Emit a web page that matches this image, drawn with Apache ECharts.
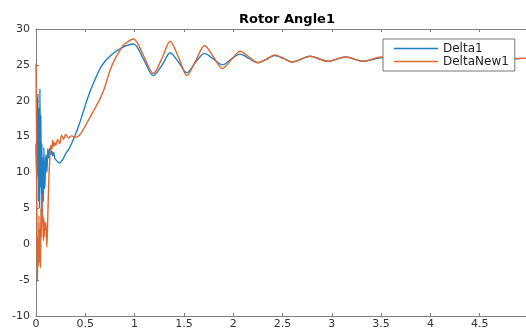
<!DOCTYPE html>
<html>
<head>
<meta charset="utf-8">
<script src="https://cdn.jsdelivr.net/npm/echarts@6/dist/echarts.min.js"></script>
<style>
  html, body { margin: 0; padding: 0; background: #fff; }
  #chart { width: 526px; height: 333px; }
</style>
</head>
<body>
<div id="chart"></div>
<script>
// time axis (s), shared by both series
const time = [
  0, 0.005, 0.01, 0.015, 0.02, 0.025, 0.03, 0.035, 0.04, 0.045, 0.05, 0.055, 0.06, 0.065, 0.07, 0.075, 0.08, 0.085, 0.09, 0.095,
  0.10, 0.11, 0.12, 0.13, 0.14, 0.15, 0.16, 0.17, 0.18, 0.19, 0.20, 0.22, 0.24, 0.26, 0.28, 0.30, 0.33, 0.36, 0.40, 0.44,
  0.48, 0.52, 0.56, 0.60, 0.65, 0.70, 0.75, 0.80, 0.85, 0.90, 0.99, 1.09, 1.19, 1.28, 1.36, 1.45, 1.53, 1.62, 1.71, 1.80,
  1.89, 1.98, 2.07, 2.16, 2.25, 2.34, 2.42, 2.51, 2.60, 2.78, 2.96, 3.14, 3.32, 3.50, 3.68, 3.86, 4.04, 4.22, 4.40, 4.58,
  4.76, 4.94, 5.0
];
const delta1 = [
  14, 9, 20.5, 9.5, 21, 6, 19, 5, 21.7, 8, 18, 4, 14, 3.3, 12, 6, 13.5, 8, 7.8, 11,
  12.5, 10, 13.3, 12, 13.4, 12.5, 13, 12.3, 12.8, 12, 11.8, 11.5, 11.3, 11.6, 12.0, 12.6, 13.2, 14.0, 15.3, 16.8,
  18.5, 20.2, 21.7, 23.0, 24.5, 25.5, 26.2, 26.8, 27.2, 27.6, 27.9, 25.8, 23.5, 25.0, 26.7, 25.3, 23.9, 25.4, 26.6, 25.8,
  25.0, 25.8, 26.5, 25.9, 25.3, 25.8, 26.3, 25.9, 25.4, 26.2, 25.5, 26.1, 25.5, 26.0, 25.6, 26.0, 25.7, 25.9, 25.7, 25.9,
  25.8, 25.9, 25.9
];
const deltaNew1 = [
  25.2, 15, 2, -5.2, 1, -3, 4, -2.5, 2, -3.3, 5, 1, 7, 3, 4, 0.5, 3.6, 1, 3, 2,
  3, -0.4, 4, 9, 12, 13.8, 13.2, 14.5, 13.6, 14.2, 13.8, 14.6, 14.0, 15.2, 14.6, 15.3, 14.8, 15.1, 14.9, 15.2,
  16.0, 17.0, 18.0, 19.0, 20.3, 22.0, 24.2, 25.8, 27.0, 27.9, 28.6, 26.3, 23.8, 26.0, 28.3, 25.9, 23.5, 25.6, 27.7, 26.1,
  24.5, 25.7, 26.9, 26.1, 25.3, 25.8, 26.4, 25.9, 25.4, 26.2, 25.5, 26.1, 25.5, 26.1, 25.6, 26.0, 25.7, 26.0, 25.7, 25.9,
  25.8, 25.9, 25.9
];

const chart = echarts.init(document.getElementById("chart"));
const axisColor = "#808080";
const font = "DejaVu Sans, sans-serif";
const labelStyle = { color: "#333", fontSize: 11, fontFamily: font, showMaxLabel: true, showMinLabel: true };

function xAx(pos, labels) {
  return {
    type: "value",
    position: pos,
    min: 0,
    max: 5,
    interval: 0.5,
    axisLine: { onZero: false, lineStyle: { color: axisColor } },
    axisTick: { inside: true, length: 3, lineStyle: { color: axisColor } },
    axisLabel: labels ? Object.assign({ margin: 3, hideOverlap: false }, labelStyle) : { show: false },
    splitLine: { show: false },
  };
}
function yAx(pos, labels) {
  return {
    type: "value",
    position: pos,
    min: -10,
    max: 30,
    interval: 5,
    axisLine: { show: true, onZero: false, lineStyle: { color: axisColor } },
    axisTick: { show: true, inside: true, length: 3, lineStyle: { color: axisColor } },
    axisLabel: labels ? Object.assign({ margin: 6 }, labelStyle) : { show: false },
    splitLine: { show: false },
  };
}

chart.setOption({
  animation: false,
  backgroundColor: "#fff",
  title: {
    text: "Rotor Angle1",
    left: 282,
    textAlign: "center",
    top: 8,
    textStyle: { color: "#000", fontSize: 13, fontWeight: "bold", fontFamily: font },
  },
  grid: { left: 36, top: 29, width: 493, bottom: 17, containLabel: false, outerBoundsMode: "none" },
  legend: {
    left: 383,
    top: 39,
    orient: "vertical",
    icon: "rect",
    itemWidth: 44,
    itemHeight: 1.5,
    itemGap: 0,
    padding: [3, 6, 3, 11],
    backgroundColor: "#fff",
    borderColor: "#777",
    borderWidth: 1,
    textStyle: { color: "#222", fontSize: 12, lineHeight: 13, fontFamily: font },
    data: ["Delta1", "DeltaNew1"],
  },
  xAxis: [xAx("bottom", true), xAx("top", false)],
  yAxis: [yAx("left", true), yAx("right", false)],
  series: [
    {
      name: "Delta1",
      type: "line",
      data: time.map((t, i) => [t, delta1[i]]),
      showSymbol: false,
      smooth: 0.3,
      color: "#1f80c4",
      lineStyle: { width: 1.4 },
    },
    {
      name: "DeltaNew1",
      type: "line",
      data: time.map((t, i) => [t, deltaNew1[i]]),
      showSymbol: false,
      smooth: 0.3,
      color: "#e0672e",
      lineStyle: { width: 1.4 },
    },
  ],
});
</script>
</body>
</html>
